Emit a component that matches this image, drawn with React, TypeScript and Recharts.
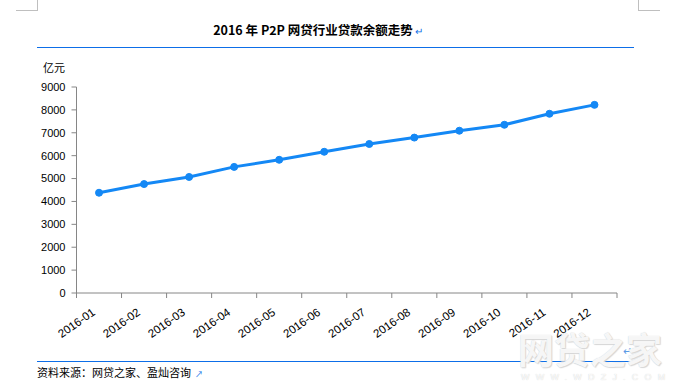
import React from 'react';
import { LineChart, Line, XAxis, YAxis } from 'recharts';

// 2016 P2P loan balance, 亿元
const months = [
  '2016-01', '2016-02', '2016-03', '2016-04', '2016-05', '2016-06',
  '2016-07', '2016-08', '2016-09', '2016-10', '2016-11', '2016-12',
];
const balances = [4380, 4760, 5070, 5510, 5820, 6170, 6510, 6790, 7090, 7350, 7830, 8220];
const yTicks = [0, 1000, 2000, 3000, 4000, 5000, 6000, 7000, 8000, 9000];

const data = months.map((m, i) => ({ month: m, value: balances[i] }));

const W = 689;
const H = 390;
const PLOT_LEFT = 76.5;
const PLOT_RIGHT = 617;
const STEP = (PLOT_RIGHT - PLOT_LEFT) / months.length;

const LINE_BLUE = '#1488f5';
const RULE_BLUE = '#0d6ee8';
const AXIS_GRAY = '#868686';
const FONT = '"Liberation Sans", "Noto Sans CJK SC", sans-serif';
const CJK = '"Noto Sans CJK SC", "Liberation Sans", sans-serif';

const MonthTick = (props: any) => {
  const { x, y, payload, index } = props;
  const lx = x - 3;
  const ly = y + 21;
  return (
    <g>
      <line x1={x - STEP / 2} y1={y} x2={x - STEP / 2} y2={y + 5} stroke={AXIS_GRAY} />
      {index === months.length - 1 && (
        <line x1={x + STEP / 2} y1={y} x2={x + STEP / 2} y2={y + 5} stroke={AXIS_GRAY} />
      )}
      <text
        x={lx}
        y={ly}
        textAnchor="end"
        fontSize={11.5}
        fontFamily={FONT}
        fill="#000"
        transform={`rotate(-35, ${lx}, ${ly})`}
      >
        {payload.value}
      </text>
    </g>
  );
};

const abs = (s: React.CSSProperties): React.CSSProperties => ({ position: 'absolute', ...s });

const App: React.FC = () => {
  return (
    <div style={abs({ left: 0, top: 0, width: W, height: H, background: '#fff', overflow: 'hidden' })}>
      {/* page corner marks */}
      <div style={abs({ left: 37, top: 0, width: 1, height: 10, background: '#bfbfbf' })} />
      <div style={abs({ left: 16, top: 10, width: 22, height: 1, background: '#bfbfbf' })} />
      <div style={abs({ left: 638, top: 0, width: 1, height: 10, background: '#bfbfbf' })} />
      <div style={abs({ left: 638, top: 10, width: 22, height: 1, background: '#bfbfbf' })} />

      {/* title */}
      <div
        style={abs({
          left: 0,
          width: 636,
          top: 21,
          textAlign: 'center',
          fontFamily: CJK,
          fontWeight: 'bold',
          fontSize: 12.5,
          lineHeight: '18px',
          color: '#000',
          whiteSpace: 'nowrap',
        })}
      >
        2016 年 P2P 网贷行业贷款余额走势
        <span style={{ color: RULE_BLUE, fontWeight: 'normal', fontSize: 10, marginLeft: 2 }}>↵</span>
      </div>
      <div style={abs({ left: 37, top: 47, width: 597, height: 1, background: RULE_BLUE })} />

      {/* unit */}
      <div style={abs({ left: 43, top: 60, fontFamily: CJK, fontSize: 11, lineHeight: '15px', color: '#000' })}>
        亿元
      </div>

      <div style={abs({ left: 0, top: 0 })}>
        <LineChart
          width={W}
          height={H}
          data={data}
          margin={{ top: 87, right: W - PLOT_RIGHT, left: 0, bottom: 47 }}
        >
          <XAxis
            dataKey="month"
            interval={0}
            height={50}
            padding={{ left: STEP / 2, right: STEP / 2 }}
            stroke={AXIS_GRAY}
            tickLine={false}
            tickSize={0}
            tickMargin={0}
            tick={<MonthTick />}
          />
          <YAxis
            width={PLOT_LEFT}
            domain={[0, 9000]}
            ticks={yTicks}
            interval={0}
            stroke={AXIS_GRAY}
            tickSize={5}
            tickMargin={6}
            tick={{ fill: '#000', fontSize: 11, fontFamily: FONT }}
          />
          <Line
            type="linear"
            dataKey="value"
            stroke={LINE_BLUE}
            strokeWidth={3}
            dot={{ r: 3.5, fill: LINE_BLUE, stroke: LINE_BLUE, strokeWidth: 1 }}
            isAnimationActive={false}
          />
        </LineChart>
      </div>

      {/* bottom rule and source */}
      <div style={abs({ left: 37, top: 361, width: 596, height: 1, background: RULE_BLUE })} />
      <div style={abs({ left: 623, top: 345, fontSize: 11, lineHeight: '12px', color: '#5a9be6', fontFamily: FONT })}>↵</div>
      <div
        style={abs({
          left: 37,
          top: 364,
          fontFamily: CJK,
          fontSize: 11,
          lineHeight: '16px',
          color: '#000',
          whiteSpace: 'nowrap',
        })}
      >
        资料来源：网贷之家、盈灿咨询
        <span style={{ color: RULE_BLUE, fontSize: 8, marginLeft: 4 }}>↗</span>
      </div>

      {/* watermark */}
      <div
        style={abs({
          left: 518,
          top: 330,
          fontFamily: CJK,
          fontWeight: 'bold',
          fontSize: 36,
          lineHeight: '36px',
          color: 'rgba(255,255,255,0.85)',
          textShadow: '0 0 1px #c8c8c8, 1px 1px 1px #d8d8d8',
          whiteSpace: 'nowrap',
        })}
      >
        网贷之家
      </div>
      <div
        style={abs({
          left: 521,
          top: 372,
          fontFamily: FONT,
          fontSize: 9,
          letterSpacing: 6.2,
          lineHeight: '10px',
          color: 'rgba(255,255,255,0.9)',
          textShadow: '0 0 1px #c8c8c8',
          whiteSpace: 'nowrap',
        })}
      >
        WWW.WDZJ.COM
      </div>
    </div>
  );
};

export default App;
